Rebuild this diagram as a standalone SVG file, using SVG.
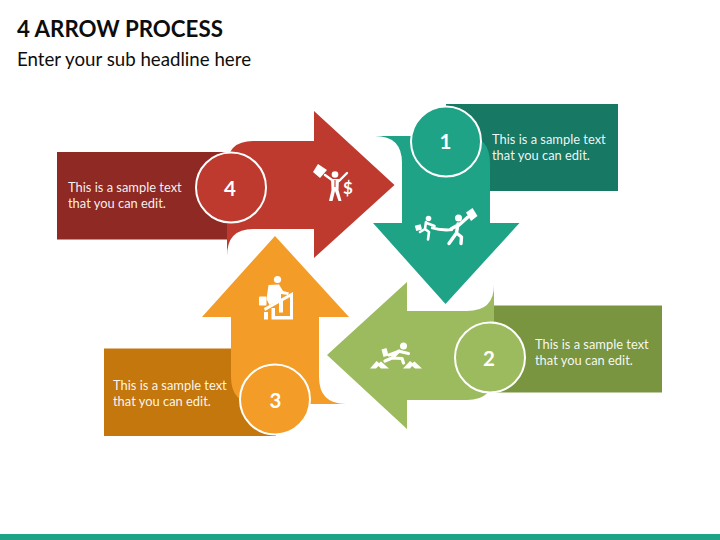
<svg xmlns="http://www.w3.org/2000/svg" width="720" height="540" viewBox="0 0 720 540">
<style>
text{font-family:Lato,"Open Sans","Noto Sans",sans-serif}
.title{font-size:22.300px;font-weight:700;fill:#0d0d0d}
.sub{font-size:18.700px;fill:#0d0d0d}
.body{font-size:12.900px;fill:#fff;fill-opacity:.94}
.num{font-size:20.500px;font-weight:700;fill:#fff;text-anchor:middle}
.ring{stroke:#fff;stroke-width:2}
.ic{fill:#fff;stroke:none}
.ln{fill:none;stroke:#fff;stroke-linecap:round;stroke-linejoin:round}
</style>
<rect width="720" height="540" fill="#fff"/>
<text class="title" x="17" y="36.500">4 ARROW PROCESS</text>
<text class="sub" x="17" y="66">Enter your sub headline here</text>
<rect x="0" y="534" width="720" height="6" fill="#1fa387"/>

<g id="step-1">
<rect x="446" y="104" width="172" height="87" fill="#177864"/>
<path d="M373 136H464Q490 136 490 163V223H519.500L445.500 304L373 223H402V163Q402 136 375 136Z" fill="#1fa387"/>
<circle class="ring" cx="446" cy="141.500" r="35" fill="#1fa387"/>
<text class="num" x="445.500" y="149">1</text>
<text class="body" x="492" y="143.500">This is a sample text</text>
<text class="body" x="492" y="160">that you can edit.</text>
<g id="icon-1">
<circle class="ic" cx="428.500" cy="218.500" r="2.800"/>
<path class="ln" stroke-width="2.600" d="M426 222L425 229M426.500 223L434.500 226M425 229L429 232L428 239.500M425 229L420 232"/>
<rect class="ic" x="415.500" y="225" width="6" height="5.500" transform="rotate(-15 418 228)"/>
<path class="ic" d="M431 226.500Q442 229 452 228.500L453 231Q442 232.500 431 229Z"/>
<circle class="ic" cx="458.500" cy="218" r="3.500"/>
<path class="ln" stroke-width="3.400" d="M458 224L456.500 233L449 243.500M456.500 233L461.500 237L461 243.500M459 225L468 217M458 225L451 229"/>
<path class="ic" d="M466 212.500L472.500 208L477.500 216L471 221Z"/>
</g>
</g>

<g id="step-2">
<rect x="490" y="305.500" width="172" height="87" fill="#799540"/>
<path d="M327 355L407 282V311H467Q494 311 494 285V373Q494 400 467 400H407V429Z" fill="#9cbb5e"/>
<circle class="ring" cx="490" cy="357.500" r="35" fill="#9cbb5e"/>
<text class="num" x="489" y="365.500">2</text>
<text class="body" x="535" y="348.500">This is a sample text</text>
<text class="body" x="535" y="365">that you can edit.</text>
<g id="icon-2">
<circle class="ic" cx="403.500" cy="346" r="3.500"/>
<path class="ln" stroke-width="3.200" d="M399 351L392 358L385 361M392 358L402 358.500L403.500 363M400 351.500L408.500 353.500M397 352L389 355"/>
<path class="ic" d="M381.500 349.500L386.500 348L388.500 355.500L383.500 357Z"/>
<path class="ic" d="M370 368.500L376.500 361L379 363L381 361.500L389 368.500H381L378.500 366L376 368.500Z"/>
<path class="ic" d="M403 368.500L410 361L412.500 363L414.500 361.500L422 368.500H415L412 366L410 368.500Z"/>
</g>
</g>

<g id="step-3">
<rect x="104" y="348.500" width="172" height="87.500" fill="#c4770c"/>
<path d="M275 236L349 317H319V377Q319 404 346 404H258Q231 404 231 377V317H202Z" fill="#f39c27"/>
<circle class="ring" cx="275" cy="399.500" r="35" fill="#f39c27"/>
<text class="num" x="275.500" y="407.500">3</text>
<text class="body" x="113" y="389.500">This is a sample text</text>
<text class="body" x="113" y="406">that you can edit.</text>
<g id="icon-3">
<circle class="ic" cx="277.500" cy="279.500" r="3.600"/>
<path class="ic" d="M268.500 285L279 284.500L283 291L289 292.500L288 295L281 294L281 299.500L269.500 305L266.500 299Z"/>
<rect class="ic" x="259" y="296.500" width="7.500" height="9" rx="1"/>
<path class="ic" d="M264 308L293 292V319.500H275V316H290V297L283 301V312.500H279V303L265 311Z"/>
<path class="ic" d="M264 312H268V319.500H264ZM271.500 308H275V319.500H271.500Z"/>
</g>
</g>

<g id="step-4">
<rect x="57" y="152" width="172" height="87.500" fill="#8e2a23"/>
<path d="M227 167Q227 141 253 141H314V111L394.500 185L314 258V229H253Q227 229 227 256Z" fill="#be3a2f"/>
<circle class="ring" cx="231" cy="187.500" r="35" fill="#be3a2f"/>
<text class="num" x="230" y="195.500">4</text>
<text class="body" x="68" y="191.500">This is a sample text</text>
<text class="body" x="68" y="208">that you can edit.</text>
<g id="icon-4">
<circle class="ic" cx="335" cy="174.500" r="3.300"/>
<path class="ic" d="M313 172L318 164L327 170L320 178Z"/>
<path class="ln" stroke-width="2.400" d="M325 175L332 180M347 173L339 181"/>
<path class="ic" d="M331 179H339L338.500 190L341.500 201H338.500L335 191L332.500 201H329L331.500 190Z"/>
<path d="M335 180V187" stroke="#be3a2f" stroke-width="1.100"/>
<text x="348" y="193.500" font-size="17" font-weight="700" fill="#fff" text-anchor="middle">$</text>
</g>
</g>
</svg>
